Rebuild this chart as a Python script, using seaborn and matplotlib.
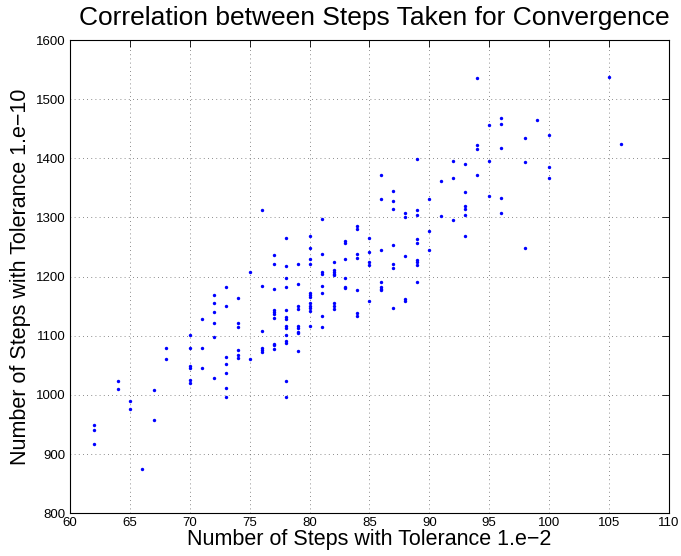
import matplotlib

matplotlib.use("Agg")
import matplotlib.pyplot as plt
import pandas as pd
import seaborn as sns

# Steps to converge (tolerance 1e-2) and the matching step counts (tolerance 1e-10),
# read off the reference picture column by column.
steps_x62 = [949, 941, 917]
steps_x64 = [1023, 1010]
steps_x65 = [989, 977]
steps_x66 = [875]
steps_x67 = [1008, 957]
steps_x68 = [1079, 1060]
steps_x70 = [1101, 1080, 1049, 1045, 1025, 1020]
steps_x71 = [1128, 1080, 1045]
steps_x72 = [1169, 1155, 1141, 1122, 1098, 1028]
steps_x73 = [1182, 1151, 1064, 1053, 1037, 1011, 997]
steps_x74 = [1163, 1121, 1114, 1076, 1068, 1063]
steps_x75 = [1208, 1060]
steps_x76 = [1313, 1184, 1108, 1080, 1076, 1072]
steps_x77 = [1236, 1222, 1179, 1143, 1140, 1137, 1130, 1086, 1084, 1077]
steps_x78 = [1265, 1218, 1198, 1183, 1143, 1132, 1128, 1117, 1113, 1102, 1091,
             1088, 1024, 997]
steps_x79 = [1221, 1188, 1151, 1145, 1117, 1113, 1107, 1105, 1074]
steps_x80 = [1269, 1249, 1230, 1221, 1172, 1169, 1165, 1156, 1151, 1147, 1142, 1117]
steps_x81 = [1298, 1239, 1207, 1204, 1184, 1172, 1133, 1114]
steps_x82 = [1225, 1211, 1208, 1204, 1202, 1155, 1151, 1146]
steps_x83 = [1260, 1256, 1230, 1197, 1182, 1180]
steps_x84 = [1285, 1281, 1238, 1231, 1177, 1138, 1133]
steps_x85 = [1266, 1241, 1225, 1219, 1159]
steps_x86 = [1372, 1332, 1245, 1191, 1182, 1179, 1177]
steps_x87 = [1345, 1328, 1315, 1253, 1221, 1215, 1147]
steps_x88 = [1307, 1300, 1235, 1162, 1159]
steps_x89 = [1399, 1312, 1305, 1264, 1257, 1228, 1225, 1219, 1191]
steps_x90 = [1331, 1277, 1245]
steps_x91 = [1362, 1302]
steps_x92 = [1395, 1366, 1295]
steps_x93 = [1391, 1343, 1319, 1314, 1305, 1269]
steps_x94 = [1536, 1423, 1416, 1371]
steps_x95 = [1457, 1395, 1337]
steps_x96 = [1469, 1458, 1417, 1333, 1308]
steps_x98 = [1435, 1394, 1248]
steps_x99 = [1465]
steps_x100 = [1439, 1386, 1366]
steps_x105 = [1538]
steps_x106 = [1425]

columns = {
    62: steps_x62, 64: steps_x64, 65: steps_x65, 66: steps_x66, 67: steps_x67,
    68: steps_x68, 70: steps_x70, 71: steps_x71, 72: steps_x72, 73: steps_x73,
    74: steps_x74, 75: steps_x75, 76: steps_x76, 77: steps_x77, 78: steps_x78,
    79: steps_x79, 80: steps_x80, 81: steps_x81, 82: steps_x82, 83: steps_x83,
    84: steps_x84, 85: steps_x85, 86: steps_x86, 87: steps_x87, 88: steps_x88,
    89: steps_x89, 90: steps_x90, 91: steps_x91, 92: steps_x92, 93: steps_x93,
    94: steps_x94, 95: steps_x95, 96: steps_x96, 98: steps_x98, 99: steps_x99,
    100: steps_x100, 105: steps_x105, 106: steps_x106,
}
steps_df = pd.DataFrame(
    [(x, y) for x, ys in columns.items() for y in ys],
    columns=["tol_1e2", "tol_1e10"],
)

sns.set_style("white")
plt.rcParams["font.family"] = ["Liberation Sans", "DejaVu Sans"]
plt.rcParams["text.color"] = "black"
plt.rcParams["axes.labelcolor"] = "black"

fig = plt.figure(figsize=(6.81, 5.56), dpi=100)
ax = fig.add_axes([0.103, 0.077, 0.879, 0.851])

sns.scatterplot(
    data=steps_df, x="tol_1e2", y="tol_1e10", ax=ax,
    color="blue", marker="o", s=6, linewidth=0, zorder=3,
)

ax.set_xlim(60, 110)
ax.set_ylim(800, 1600)
ax.set_xticks(range(60, 111, 5))
ax.set_yticks(range(800, 1601, 100))
ax.grid(True, color="black", linestyle=(0, (1, 4)), linewidth=0.6, alpha=0.6)
ax.tick_params(direction="in", length=5, width=0.6, labelsize=9.5, pad=3,
               top=True, right=True, colors="black")
for spine in ax.spines.values():
    spine.set_color("black")
    spine.set_linewidth(0.8)

# Title sits close to the top edge of the figure, a little right of centre
ax.set_title("Correlation between Steps Taken for Convergence", fontsize=19,
             pad=11, color="black", x=0.508)
ax.set_xlabel("Number of Steps with Tolerance 1.e\u22122", fontsize=15.5, labelpad=0)
ax.set_ylabel("Number of Steps with Tolerance 1.e\u221210", fontsize=15.5, labelpad=4)

fig.savefig("out.png", dpi=100)
